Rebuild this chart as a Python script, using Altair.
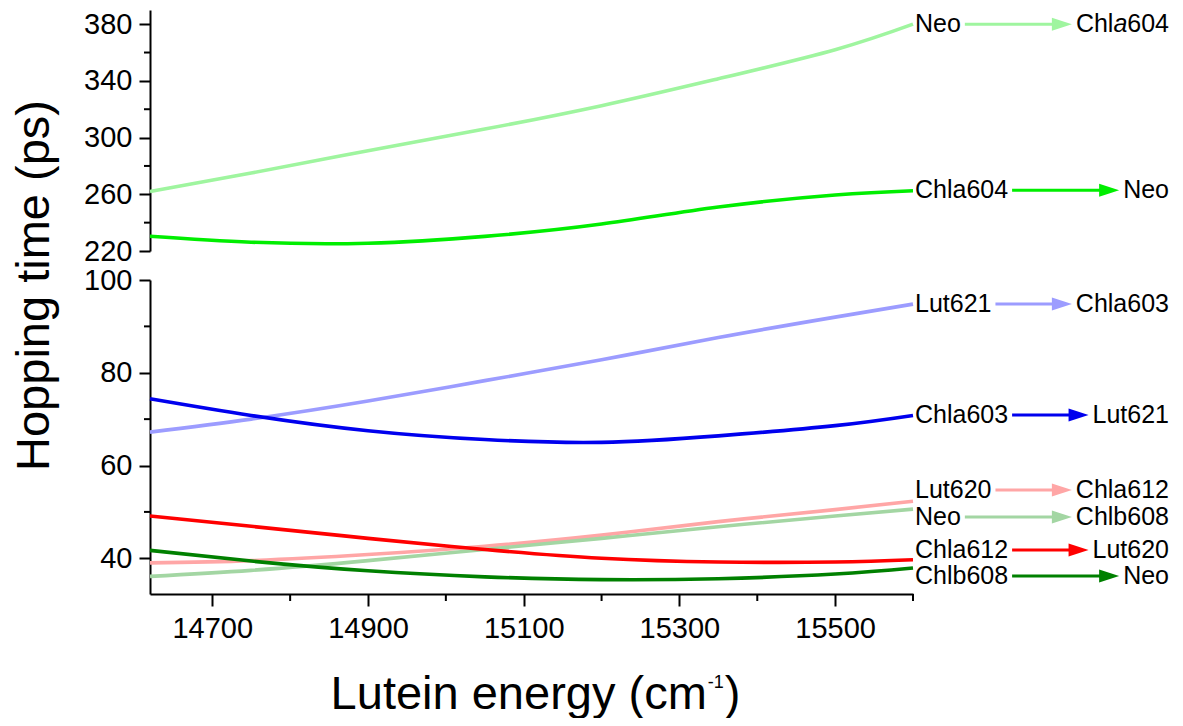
import altair as alt
import pandas as pd

FONT = "Liberation Sans, Arial, Helvetica, sans-serif"
PANEL_W = 763
TOP_H = 241
BOT_H = 314
GAP = 29
X_DOMAIN = [14620, 15600]
TOP_DOMAIN = [220, 390]
BOT_DOMAIN = [32.3, 100]

# ---- data ----
X_GRID = [14620, 14750, 14900, 15050, 15200, 15350, 15500, 15600]

NEO_CHLA604 = [262.0, 275.0, 290.7, 306.0, 322.5, 341.5, 362.0, 380.0]
CHLA604_NEO = [230.4, 226.2, 225.5, 230.3, 239.0, 251.0, 259.5, 262.5]
LUT621_CHLA603 = [67.2, 70.0, 73.9, 78.3, 82.8, 87.6, 92.0, 94.8]
CHLA603_LUT621 = [74.4, 70.8, 67.5, 65.6, 65.0, 66.4, 68.6, 70.8]
LUT620_CHLA612 = [39.0, 39.5, 40.8, 42.6, 45.0, 47.9, 50.5, 52.3]
NEO_CHLB608 = [36.1, 37.4, 39.5, 41.9, 44.3, 46.8, 49.1, 50.6]
CHLA612_LUT620 = [49.1, 46.9, 44.3, 41.9, 40.0, 39.2, 39.2, 39.7]
CHLB608_NEO = [41.7, 39.4, 37.3, 36.0, 35.4, 35.6, 36.6, 37.9]

SERIES_VALUES = [NEO_CHLA604, CHLA604_NEO, LUT621_CHLA603, CHLA603_LUT621,
                 LUT620_CHLA612, NEO_CHLB608, CHLA612_LUT620, CHLB608_NEO]
DONORS = ["Neo", "Chla604", "Lut621", "Chla603", "Lut620", "Neo", "Chla612", "Chlb608"]
ACCEPTORS = ["Chla604", "Neo", "Chla603", "Lut621", "Chla612", "Chlb608", "Lut620", "Neo"]
PANEL_OF = ["top", "top", "bottom", "bottom", "bottom", "bottom", "bottom", "bottom"]
LABEL_Y = [380, 262.9, 94.8, 70.9, 54.7, 48.9, 41.8, 36.2]
COLORS = ["#9ff59f", "#00ee00", "#9c9cff", "#0000ee",
          "#ffa6a6", "#a3d6a3", "#ff0000", "#008000"]

TOP_MAJOR = [220, 260, 300, 340, 380]
TOP_MINOR = [240, 280, 320, 360]
BOT_MAJOR = [40, 60, 80, 100]
BOT_MINOR = [50, 70, 90]
X_MAJOR = [14700, 14900, 15100, 15300, 15500]
X_MINOR = [14800, 15000, 15200, 15400, 15600]

Y_TITLE = "Hopping time (ps)"
X_TITLE_MAIN = "Lutein energy (cm"
X_TITLE_SUP = "-1"
X_TITLE_END = ")"

LABEL_FS = 25
TICK_FS = 29
XT_FS = 47
SUP_FS = 18
AR = {"N": .722, "C": .722, "L": .556, "e": .556, "o": .556, "h": .556, "l": .222,
      "a": .556, "b": .556, "u": .556, "t": .278, "i": .222, "n": .556, " ": .278,
      "r": .333, "g": .556, "y": .5, "(": .333, ")": .333, "c": .5, "m": .833, "-": .333}


def tw(s, fs=LABEL_FS):
    return sum(AR.get(c, .556) for c in s) * fs


ARROW_PATH = "M-1,-0.65L1,0L-1,0.65Z"
LEFT_X = PANEL_W + 2
RIGHT_X = PANEL_W + 256


def make_panel(panel, ydom, major, minor, height, bottom):
    idx = [i for i, p in enumerate(PANEL_OF) if p == panel]
    rows = []
    for i in idx:
        for x, v in zip(X_GRID, SERIES_VALUES[i]):
            rows.append({"key": f"{DONORS[i]}-{ACCEPTORS[i]}-{i}", "x": x, "v": v, "color": COLORS[i]})
    ldf = pd.DataFrame(rows)

    ann, right_norm, right_ital = [], [], []
    for i in idx:
        lw = tw(DONORS[i])
        rw = tw(ACCEPTORS[i])
        tip = RIGHT_X - rw - 4
        ann.append({"lx": LEFT_X, "ltext": DONORS[i], "v": LABEL_Y[i], "color": COLORS[i],
                    "a0": LEFT_X + lw + 4, "a1": tip - 16, "hx": tip - 10})
        if i == 0:
            r = RIGHT_X
            right_norm.append({"rx": r, "rtext": "604", "v": LABEL_Y[i]})
            r -= tw("604")
            right_ital.append({"rx": r, "rtext": "a", "v": LABEL_Y[i]})
            r -= tw("a")
            right_norm.append({"rx": r, "rtext": "Chl", "v": LABEL_Y[i]})
        else:
            right_norm.append({"rx": RIGHT_X, "rtext": ACCEPTORS[i], "v": LABEL_Y[i]})
    adf = pd.DataFrame(ann)

    xs = alt.Scale(domain=X_DOMAIN, nice=False, zero=False)
    ys = alt.Scale(domain=ydom, nice=False, zero=False)

    if bottom:
        xaxis = alt.Axis(orient="bottom", values=X_MAJOR, format="d", tickSize=12, labelPadding=8,
                         title=None)
        yaxis = alt.Axis(orient="left", values=major, tickSize=11, labelPadding=7,
                         title=Y_TITLE, titleX=-102, titleY=5, titleAngle=270,
                         titleAlign="center", titleBaseline="alphabetic",
                         titleFontSize=47, titleFont=FONT, titleFontWeight="normal")
    else:
        xaxis = None
        yaxis = alt.Axis(orient="left", values=major, tickSize=11, labelPadding=7, title=None)

    lines = alt.Chart(ldf).mark_line(strokeWidth=3.6, interpolate="natural").encode(
        x=alt.X("x:Q", scale=xs, axis=xaxis),
        y=alt.Y("v:Q", scale=ys, axis=yaxis),
        color=alt.Color("color:N", scale=None),
        detail="key:N",
    )

    yminor = alt.Chart(pd.DataFrame({"v": minor})).mark_rule(color="black", strokeWidth=2).encode(
        y=alt.Y("v:Q", scale=ys, axis=None),
        x=alt.value(-6), x2=alt.value(0),
    )

    ltext = alt.Chart(adf).mark_text(align="left", baseline="middle", fontSize=LABEL_FS,
                                      font=FONT, color="black").encode(
        x=alt.X("lx:Q", scale=None, axis=None), y=alt.Y("v:Q", scale=ys, axis=None), text="ltext:N")
    rtext = alt.Chart(pd.DataFrame(right_norm)).mark_text(
        align="right", baseline="middle", fontSize=LABEL_FS, font=FONT, color="black").encode(
        x=alt.X("rx:Q", scale=None, axis=None), y=alt.Y("v:Q", scale=ys, axis=None), text="rtext:N")
    shaft = alt.Chart(adf).mark_rule(strokeWidth=3).encode(
        x=alt.X("a0:Q", scale=None, axis=None), x2="a1:Q",
        y=alt.Y("v:Q", scale=ys, axis=None), color=alt.Color("color:N", scale=None))
    head = alt.Chart(adf).mark_point(filled=True, opacity=1, shape=ARROW_PATH, size=400).encode(
        x=alt.X("hx:Q", scale=None, axis=None), y=alt.Y("v:Q", scale=ys, axis=None),
        color=alt.Color("color:N", scale=None))

    layers = [lines, yminor, shaft, head, ltext, rtext]
    if right_ital:
        layers.append(alt.Chart(pd.DataFrame(right_ital)).mark_text(
            align="right", baseline="middle", fontSize=LABEL_FS, font=FONT, fontStyle="italic",
            color="black").encode(
            x=alt.X("rx:Q", scale=None, axis=None), y=alt.Y("v:Q", scale=ys, axis=None),
            text="rtext:N"))
    if bottom:
        layers.append(alt.Chart(pd.DataFrame({"x": X_MINOR})).mark_rule(
            color="black", strokeWidth=2).encode(
            x=alt.X("x:Q", scale=xs, axis=None), y=alt.value(height), y2=alt.value(height + 7)))
        # x-axis title with a real superscript
        w_main = tw(X_TITLE_MAIN, XT_FS)
        w_sup = tw(X_TITLE_SUP, SUP_FS)
        w_end = tw(X_TITLE_END, XT_FS)
        x0 = PANEL_W / 2 + 3 - (w_main + w_sup + w_end) / 2
        base = height + 115
        one = pd.DataFrame({"k": [0]})
        layers.append(alt.Chart(one).mark_text(
            align="left", baseline="alphabetic", fontSize=XT_FS, font=FONT, color="black").encode(
            x=alt.value(x0), y=alt.value(base), text=alt.value(X_TITLE_MAIN)))
        layers.append(alt.Chart(one).mark_text(
            align="left", baseline="alphabetic", fontSize=SUP_FS, font=FONT, color="black").encode(
            x=alt.value(x0 + w_main + 1), y=alt.value(base - 21), text=alt.value(X_TITLE_SUP)))
        layers.append(alt.Chart(one).mark_text(
            align="left", baseline="alphabetic", fontSize=XT_FS, font=FONT, color="black").encode(
            x=alt.value(x0 + w_main + w_sup + 2), y=alt.value(base), text=alt.value(X_TITLE_END)))

    return alt.layer(*layers).resolve_axis(x="independent", y="independent").properties(
        width=PANEL_W, height=height)


top = make_panel("top", TOP_DOMAIN, TOP_MAJOR, TOP_MINOR, TOP_H, False)
bot = make_panel("bottom", BOT_DOMAIN, BOT_MAJOR, BOT_MINOR, BOT_H, True)

chart = alt.vconcat(top, bot, spacing=GAP, bounds="flush").properties(
    padding={"left": 1, "top": 2, "right": 0, "bottom": 0}
).configure_view(stroke=None).configure_axis(
    domainColor="black", domainWidth=2, tickColor="black", tickWidth=2,
    labelColor="black", labelFont=FONT, labelFontSize=TICK_FS, grid=False, titleColor="black"
)

chart.save("out.html", embed_options={"renderer": "svg", "actions": False})
